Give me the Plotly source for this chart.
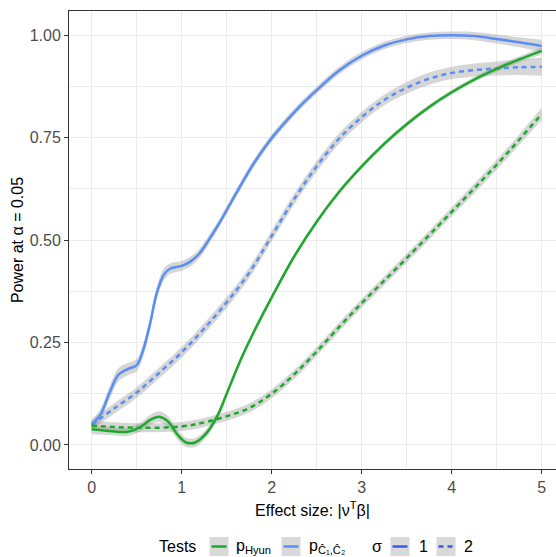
import numpy as np
import plotly.graph_objects as go

# ---------------- data ----------------
# p_C1C2, sigma = 1 (blue solid)
x_bs = [0, 0.1, 0.2, 0.3, 0.4, 0.5, 0.57, 0.65, 0.72, 0.8, 0.87, 1.0, 1.1, 1.2, 1.3, 1.4,
        1.5, 1.6, 1.8, 2.0, 2.25, 2.5, 2.75, 3.0, 3.25, 3.5, 3.75, 4.0, 4.25, 4.5, 4.75, 5.0]
y_bs = [0.049, 0.075, 0.128, 0.172, 0.185, 0.195, 0.23, 0.297, 0.368, 0.415, 0.43, 0.437,
        0.448, 0.468, 0.5, 0.535, 0.573, 0.612, 0.687, 0.749, 0.812, 0.866, 0.914, 0.950,
        0.975, 0.990, 0.998, 1.0, 0.998, 0.991, 0.983, 0.974]
se_bs = [0.012, 0.014, 0.016, 0.016, 0.015, 0.015, 0.016, 0.016, 0.016, 0.015, 0.013, 0.012,
         0.012, 0.011, 0.011, 0.01, 0.01, 0.01, 0.01, 0.009,
         0.009, 0.009, 0.009, 0.009, 0.009, 0.009, 0.009, 0.009,
         0.01, 0.011, 0.012, 0.015]

# p_C1C2, sigma = 2 (blue dashed)
x_bd = [0, 0.25, 0.5, 0.75, 1, 1.25, 1.5, 1.75, 2, 2.25, 2.5, 2.75, 3, 3.25, 3.5, 3.75, 4,
        4.25, 4.5, 4.75, 5]
y_bd = [0.049, 0.089, 0.128, 0.176, 0.226, 0.284, 0.348, 0.42, 0.51, 0.6, 0.68, 0.748,
        0.800, 0.842, 0.872, 0.894, 0.908, 0.915, 0.919, 0.922, 0.923]
se_bd = [0.012, 0.013, 0.013, 0.013, 0.013, 0.013, 0.013, 0.013, 0.013, 0.013, 0.013, 0.013,
         0.013, 0.013, 0.014, 0.015, 0.015, 0.016, 0.017, 0.019, 0.022]

# p_Hyun, sigma = 1 (green solid)
x_gs = [0, 0.2, 0.4, 0.55, 0.65, 0.75, 0.85, 0.95, 1.05, 1.15, 1.28, 1.4, 1.5, 1.65, 1.8,
        2.0, 2.25, 2.5, 2.75, 3.0, 3.25, 3.5, 3.75, 4, 4.25, 4.5, 4.75, 5]
y_gs = [0.038, 0.034, 0.032, 0.045, 0.061, 0.069, 0.057, 0.026, 0.006, 0.006, 0.03, 0.072,
        0.125, 0.205, 0.275, 0.36, 0.46, 0.545, 0.618, 0.680, 0.735, 0.783, 0.825, 0.861,
        0.892, 0.918, 0.941, 0.962]
se_gs = [0.012, 0.01, 0.01, 0.011, 0.012, 0.013, 0.013, 0.012, 0.011, 0.011,
         0.01, 0.009, 0.008, 0.007, 0.007, 0.006, 0.006, 0.006, 0.006, 0.006,
         0.006, 0.006, 0.006, 0.006, 0.006, 0.007, 0.008, 0.009]

# p_Hyun, sigma = 2 (green dashed)
x_gd = [0, 0.5, 1, 1.25, 1.5, 1.75, 2, 2.25, 2.5, 2.75, 3, 3.25, 3.5, 3.75, 4, 4.25, 4.5,
        4.75, 5]
y_gd = [0.047, 0.042, 0.045, 0.055, 0.07, 0.09, 0.125, 0.172, 0.228, 0.288, 0.346, 0.401,
        0.456, 0.512, 0.569, 0.626, 0.684, 0.745, 0.808]
se_gd = [0.012, 0.011, 0.011, 0.011, 0.011, 0.011, 0.011, 0.011, 0.011, 0.011, 0.011, 0.011,
         0.011, 0.011, 0.011, 0.012, 0.012, 0.013, 0.015]

x_ticks = [0, 1, 2, 3, 4, 5]
x_ticktext = ["0", "1", "2", "3", "4", "5"]
y_ticks = [0, 0.25, 0.5, 0.75, 1.0]
y_ticktext = ["0.00", "0.25", "0.50", "0.75", "1.00"]

# ---------------- styling ----------------
GREEN = "#1DAA2C"
BLUE = "#5B8EF5"
SIGMA_BLUE = "#3A5BEA"
BAND = "rgba(153,153,153,0.4)"
FONT = "Liberation Sans, Arial, Helvetica, sans-serif"

series = [
    (x_bs, y_bs, se_bs, BLUE, "solid"),
    (x_bd, y_bd, se_bd, BLUE, "5px,4px"),
    (x_gs, y_gs, se_gs, GREEN, "solid"),
    (x_gd, y_gd, se_gd, GREEN, "5px,4px"),
]

fig = go.Figure()

# ribbons first
for xs, ys, se, col, dash in series:
    y = np.array(ys)
    s = np.array(se)
    fig.add_trace(go.Scatter(x=xs, y=y - s, mode="lines",
                             line=dict(width=0, shape="spline", smoothing=1),
                             hoverinfo="skip", showlegend=False))
    fig.add_trace(go.Scatter(x=xs, y=y + s, mode="lines", fill="tonexty",
                             fillcolor=BAND,
                             line=dict(width=0, shape="spline", smoothing=1),
                             hoverinfo="skip", showlegend=False))

# lines
for xs, ys, se, col, dash in series:
    fig.add_trace(go.Scatter(x=xs, y=ys, mode="lines",
                             line=dict(color=col, width=2.5, dash=dash,
                                       shape="spline", smoothing=1),
                             showlegend=False))

# ---------------- layout ----------------
L, R, T, B = 69, 556, 11, 469
W, H = 556, 557


def px(p):
    return (p - L) / (R - L)


def py(p):
    return (B - p) / (B - T)


fig.update_layout(
    width=W, height=H,
    margin=dict(l=L, r=W - R, t=T, b=H - B),
    paper_bgcolor="white", plot_bgcolor="white",
    showlegend=False,
    font=dict(family=FONT, size=16, color="black"),
)

grid = "#EBEBEB"
fig.update_xaxes(
    range=[-0.252, 5.159], tickmode="array", tickvals=x_ticks, ticktext=x_ticktext,
    ticks="outside", ticklen=4, tickwidth=1, tickcolor="#333333",
    tickfont=dict(size=16, color="#4D4D4D"),
    showgrid=True, gridcolor=grid, gridwidth=1,
    minor=dict(tickmode="linear", tick0=0, dtick=0.5, showgrid=True,
               gridcolor=grid, gridwidth=0.6),
    showline=True, linecolor="#333333", linewidth=1, mirror=True, zeroline=False,
    title=dict(text="Effect size: |ν<sup>T</sup>β|", font=dict(size=16), standoff=9),
)
fig.update_yaxes(
    range=[-0.0588, 1.0593], tickmode="array", tickvals=y_ticks, ticktext=y_ticktext,
    ticks="outside", ticklen=4, tickwidth=1, tickcolor="#333333",
    tickfont=dict(size=16, color="#4D4D4D"),
    showgrid=True, gridcolor=grid, gridwidth=1,
    minor=dict(tickmode="linear", tick0=0, dtick=0.125, showgrid=True,
               gridcolor=grid, gridwidth=0.6),
    showline=True, linecolor="#333333", linewidth=1, mirror=False, zeroline=False,
    title=dict(text="Power at α = 0.05", font=dict(size=16), standoff=2),
)

# ---------------- legend (drawn manually, ggplot style) ----------------
ly = 546.5
shapes = []
annots = []


def label(x0, text):
    annots.append(dict(x=px(x0), y=py(ly), xref="paper", yref="paper", text=text,
                       showarrow=False, xanchor="left", yanchor="middle",
                       font=dict(size=16, color="black"), borderpad=0))


def key(x0, col, dash):
    shapes.append(dict(type="rect", xref="paper", yref="paper",
                       x0=px(x0), x1=px(x0 + 19), y0=py(ly - 9.5), y1=py(ly + 9.5),
                       fillcolor="#D9D9D9", line=dict(width=0), layer="above"))
    shapes.append(dict(type="line", xref="paper", yref="paper",
                       x0=px(x0 + 2), x1=px(x0 + 17), y0=py(ly), y1=py(ly),
                       line=dict(color=col, width=2.5, dash=dash), layer="above"))


label(158, "Tests")
key(209.5, GREEN, "solid")
label(235, "p<sub>Hyun</sub>")
key(281.5, BLUE, "solid")
label(307.5, "p<sub>Ĉ₁,Ĉ₂</sub>")
label(371, "σ")
key(390.5, SIGMA_BLUE, "solid")
label(417.5, "1")
key(436.5, SIGMA_BLUE, "5px,4px")
label(462.5, "2")

fig.update_layout(shapes=shapes, annotations=annots)

fig.write_html("out.html")
